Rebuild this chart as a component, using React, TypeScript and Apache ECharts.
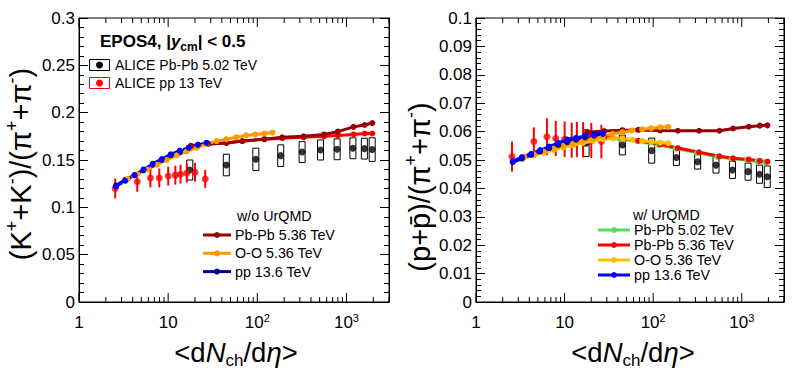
import React, { useEffect, useRef } from 'react';
import * as echarts from 'echarts';

// ---------- axes ----------
const X_MIN = 1;
const X_MAX = 3000;
const xMajorTicks = [1, 10, 100, 1000];
const xMinorTicks = [2, 3, 4, 5, 6, 7, 8, 9, 20, 30, 40, 50, 60, 70, 80, 90, 200, 300, 400, 500, 600, 700, 800, 900, 2000, 3000];
const KPI_MAX = 0.3;
const KPI_STEP = 0.05;
const PPI_MAX = 0.1;
const PPI_STEP = 0.01;

// ---------- ALICE Pb-Pb 5.02 TeV ----------
const alicePbPbX = [17.5, 44.9, 96.3, 183, 318, 512, 786, 1180, 1587, 1943];
const alicePbPbKpi = [0.1394, 0.1447, 0.1507, 0.1546, 0.1584, 0.1606, 0.1613, 0.1624, 0.162, 0.161];
const alicePbPbKpiSys = [0.0106, 0.0114, 0.0118, 0.0114, 0.011, 0.0106, 0.011, 0.011, 0.011, 0.0125];
const alicePbPbPpi = [0.0559, 0.0553, 0.0533, 0.0509, 0.0494, 0.0482, 0.0465, 0.0459, 0.045, 0.0441];
const alicePbPbPpiSys = [0.0047, 0.0035, 0.0044, 0.0028, 0.0026, 0.0028, 0.003, 0.003, 0.0032, 0.0038];

// ---------- ALICE pp 13 TeV ----------
const alicePpX = [2.55, 4.5, 6.32, 7.95, 10.02, 12.04, 13.77, 16.17, 20.02, 26.02];
const alicePpKpi = [0.12, 0.127, 0.131, 0.131, 0.133, 0.134, 0.135, 0.136, 0.137, 0.13];
const alicePpKpiErr = [0.0105, 0.0105, 0.01, 0.01, 0.01, 0.01, 0.01, 0.01, 0.01, 0.0095];
const alicePpPpi = [0.0512, 0.0565, 0.0582, 0.0576, 0.0573, 0.057, 0.0572, 0.0571, 0.0569, 0.0565];
const alicePpPpiErr = [0.0053, 0.005, 0.0065, 0.0062, 0.0063, 0.0062, 0.0062, 0.0062, 0.0062, 0.0059];

// ---------- EPOS4 ----------
const eposPbPbX = [18, 28, 45, 68, 120, 190, 330, 560, 800, 1200, 1600, 1950];
const pbpbKpiNoUrqmd = [0.165, 0.167, 0.168, 0.17, 0.172, 0.174, 0.175, 0.177, 0.18, 0.185, 0.187, 0.189];
const pbpbKpiUrqmd = [0.165, 0.167, 0.168, 0.17, 0.172, 0.173, 0.174, 0.175, 0.176, 0.177, 0.178, 0.178];
const pbpbPpiNoUrqmd = [0.0598, 0.0602, 0.0605, 0.0606, 0.0604, 0.0603, 0.0603, 0.0603, 0.0611, 0.0617, 0.0621, 0.0622];
const pbpbPpiUrqmd = [0.0585, 0.058, 0.0575, 0.0568, 0.0555, 0.0542, 0.0527, 0.0513, 0.0506, 0.0502, 0.0497, 0.0494];
const eposPbPb502X = [17, 27, 43, 66, 115, 180, 315, 530, 770, 1150, 1500, 1850];
const pbpb502PpiUrqmd = [0.0583, 0.0578, 0.0573, 0.0566, 0.0553, 0.054, 0.0525, 0.0511, 0.0504, 0.05, 0.0495, 0.0492];
const eposOOX = [3.5, 4.5, 5.8, 7.5, 9.6, 12.5, 16, 21, 27, 35, 45, 58, 75, 95, 120, 148];
const ooKpiNoUrqmd = [0.13, 0.135, 0.14, 0.145, 0.15, 0.155, 0.159, 0.163, 0.167, 0.17, 0.172, 0.174, 0.176, 0.177, 0.178, 0.179];
const ooPpiNoUrqmd = [0.0512, 0.052, 0.053, 0.054, 0.055, 0.0558, 0.0566, 0.0575, 0.0584, 0.0592, 0.0598, 0.0604, 0.0608, 0.0612, 0.0615, 0.0617];
const ooPpiUrqmd = [0.0508, 0.0516, 0.0525, 0.0535, 0.0544, 0.0552, 0.056, 0.0567, 0.0573, 0.0576, 0.0575, 0.0572, 0.0568, 0.0564, 0.0561, 0.0559];
const eposPpX = [2.6, 3.3, 4.2, 5.3, 6.7, 8.5, 10.7, 13.5, 17, 21.5, 27];
const ppKpiNoUrqmd = [0.123, 0.129, 0.134, 0.139, 0.145, 0.15, 0.155, 0.158, 0.163, 0.166, 0.168];
const ppKpiUrqmd = [0.122, 0.128, 0.134, 0.14, 0.146, 0.151, 0.156, 0.16, 0.163, 0.166, 0.168];
const ppPpiNoUrqmd = [0.0492, 0.0505, 0.0518, 0.053, 0.0542, 0.0553, 0.0563, 0.0572, 0.058, 0.0586, 0.0592];
const ppPpiUrqmd = [0.0496, 0.051, 0.0522, 0.0535, 0.0547, 0.056, 0.0572, 0.0578, 0.0585, 0.059, 0.0595];

// ---------- legends ----------
const leftLegendNames = ['Pb-Pb 5.36 TeV', 'O-O 5.36 TeV', 'pp 13.6 TeV'];
const rightLegendNames = ['Pb-Pb 5.02 TeV', 'Pb-Pb 5.36 TeV', 'O-O 5.36 TeV', 'pp 13.6 TeV'];

const FONT = '"Liberation Sans", Arial, Helvetica, sans-serif';
const DARKRED = '#990000';
const ORANGE = '#ff9900';
const NAVY = '#000099';
const GREEN = '#55dd55';
const RED = '#ff0000';
const YELLOW = '#ffbf00';
const BLUE = '#0000ff';

const leftLegendColors = [DARKRED, ORANGE, NAVY];
const rightLegendColors = [GREEN, RED, YELLOW, BLUE];

const pairs = (xs: number[], ys: number[]) => xs.map((x, i) => [x, ys[i]]);

const lineSeries = (xs: number[], ys: number[], color: string, xi: number, yi: number, dashed = false) => ({
  type: 'line',
  xAxisIndex: xi,
  yAxisIndex: yi,
  data: pairs(xs, ys),
  symbol: 'circle',
  symbolSize: 6,
  showSymbol: true,
  silent: true,
  itemStyle: { color },
  lineStyle: { color, width: 3, type: dashed ? [7, 4] : 'solid' },
  z: 3,
});

const boxSeries = (xs: number[], ys: number[], errs: number[], xi: number, yi: number) => ({
  type: 'custom',
  xAxisIndex: xi,
  yAxisIndex: yi,
  silent: true,
  data: xs.map((x, i) => [x, ys[i], errs[i]]),
  encode: { x: 0, y: 1 },
  z: 2,
  renderItem: (params: any, api: any) => {
    const x = api.value(0);
    const y = api.value(1);
    const e = api.value(2);
    const hi = api.coord([x, y + e]);
    const lo = api.coord([x, y - e]);
    const hw = 3;
    return {
      type: 'rect',
      shape: { x: hi[0] - hw, y: hi[1], width: 2 * hw, height: lo[1] - hi[1] },
      style: { fill: 'none', stroke: '#000', lineWidth: 1 },
    };
  },
});

const barSeries = (xs: number[], ys: number[], errs: number[], color: string, xi: number, yi: number) => ({
  type: 'custom',
  xAxisIndex: xi,
  yAxisIndex: yi,
  silent: true,
  data: xs.map((x, i) => [x, ys[i], errs[i]]),
  encode: { x: 0, y: 1 },
  z: 2,
  renderItem: (params: any, api: any) => {
    const x = api.value(0);
    const y = api.value(1);
    const e = api.value(2);
    const hi = api.coord([x, y + e]);
    const lo = api.coord([x, y - e]);
    return {
      type: 'line',
      shape: { x1: hi[0], y1: hi[1], x2: lo[0], y2: lo[1] },
      style: { stroke: color, lineWidth: 2 },
    };
  },
});

const pointSeries = (xs: number[], ys: number[], color: string, xi: number, yi: number) => ({
  type: 'scatter',
  xAxisIndex: xi,
  yAxisIndex: yi,
  silent: true,
  data: pairs(xs, ys),
  symbol: 'circle',
  symbolSize: 7,
  itemStyle: { color },
  z: 2,
});

const tickSeries = (xi: number, yi: number) => ({
  type: 'custom',
  xAxisIndex: xi,
  yAxisIndex: yi,
  silent: true,
  data: xMajorTicks.map((v) => [v, 0, 1]).concat(xMinorTicks.map((v) => [v, 0, 0])),
  encode: { x: 0, y: 1 },
  z: 10,
  renderItem: (params: any, api: any) => {
    const v = api.value(0);
    const len = api.value(2) === 1 ? 9 : 5;
    const cs = params.coordSys;
    const x = api.coord([v, 0])[0];
    const top = cs.y;
    const bot = cs.y + cs.height;
    return {
      type: 'group',
      children: [
        { type: 'line', shape: { x1: x, y1: bot, x2: x, y2: bot - len }, style: { stroke: '#000', lineWidth: 1 } },
        { type: 'line', shape: { x1: x, y1: top, x2: x, y2: top + len }, style: { stroke: '#000', lineWidth: 1 } },
      ],
    };
  },
});

const xLabelFormatter = (v: number) => {
  const e = Math.round(Math.log10(v));
  if (Math.abs(v - Math.pow(10, e)) / v > 1e-6) return '';
  if (e === 0) return '{b|1}';
  if (e === 1) return '{b|10}';
  return '{b|10}{s|' + e + '}';
};

const makeXAxis = (gridIndex: number) => ({
  type: 'log',
  logBase: 10,
  gridIndex,
  min: X_MIN,
  max: X_MAX,
  axisLine: { show: true, lineStyle: { color: '#000', width: 1 } },
  axisTick: { show: false },
  splitLine: { show: false },
  axisLabel: {
    margin: 10,
    formatter: xLabelFormatter,
    rich: {
      b: { fontSize: 17, fontFamily: FONT, color: '#000', lineHeight: 20 },
      s: { fontSize: 11, fontFamily: FONT, color: '#000', verticalAlign: 'top', lineHeight: 9 },
    },
  },
});

const makeYAxis = (gridIndex: number, max: number, step: number, position: string, labels: boolean) => ({
  type: 'value',
  gridIndex,
  position,
  min: 0,
  max,
  interval: step,
  axisLine: { show: true, onZero: false, lineStyle: { color: '#000', width: 1 } },
  axisTick: { show: true, inside: true, length: 9, lineStyle: { color: '#000' } },
  minorTick: { show: true, splitNumber: 5, length: 5, lineStyle: { color: '#000' } },
  splitLine: { show: false },
  axisLabel: {
    show: labels,
    margin: 4,
    fontSize: 17,
    fontFamily: FONT,
    color: '#000',
    formatter: (v: number) => String(+v.toFixed(4)),
  },
});

const txt = (x: number, y: number, text: string, extra: any = {}) => ({
  type: 'text',
  x,
  y,
  silent: true,
  style: { text, fontSize: 14.3, fontFamily: FONT, fill: '#000', verticalAlign: 'middle', align: 'left', ...extra },
});

const legendLine = (x1: number, x2: number, y: number, color: string) => [
  { type: 'line', silent: true, shape: { x1, y1: y, x2, y2: y }, style: { stroke: color, lineWidth: 3 } },
  { type: 'circle', silent: true, shape: { cx: (x1 + x2) / 2, cy: y, r: 3 }, style: { fill: color } },
];

const xTitleRich = {
  a: { fontSize: 27.5, fontFamily: FONT, color: '#000', lineHeight: 34 },
  i: { fontSize: 27.5, fontFamily: FONT, fontStyle: 'italic', color: '#000', lineHeight: 34 },
  d: { fontSize: 17, fontFamily: FONT, color: '#000', verticalAlign: 'bottom', lineHeight: 17 },
};
const yTitleRich = {
  a: { fontSize: 29, fontFamily: FONT, color: '#000', lineHeight: 36 },
  u: { fontSize: 18, fontFamily: FONT, color: '#000', verticalAlign: 'top', lineHeight: 15 },
};

const xTitle = '{a|<d}{i|N}{d|ch}{a|/d}{i|η}{a|>}';

export default function App() {
  const ref = useRef<HTMLDivElement>(null);
  useEffect(() => {
    if (!ref.current) return;
    const chart = echarts.init(ref.current, null, { renderer: 'svg' });

    const graphic: any[] = [];
    // top-left header and ALICE legend
    graphic.push({
      type: 'text',
      x: 100,
      y: 41,
      silent: true,
      style: {
        text: '{b|EPOS4, |}{bi|y}{bs|cm}{b|| < 0.5}',
        verticalAlign: 'middle',
        rich: {
          b: { fontSize: 17, fontWeight: 'bold', fontFamily: FONT, color: '#000', lineHeight: 24 },
          bi: { fontSize: 17, fontWeight: 'bold', fontStyle: 'italic', fontFamily: FONT, color: '#000', lineHeight: 24 },
          bs: { fontSize: 12, fontWeight: 'bold', fontFamily: FONT, color: '#000', verticalAlign: 'bottom', lineHeight: 14 },
        },
      },
    });
    graphic.push({ type: 'rect', silent: true, shape: { x: 89.5, y: 59.5, width: 20, height: 11 }, style: { fill: 'none', stroke: '#000', lineWidth: 1 } });
    graphic.push({ type: 'circle', silent: true, shape: { cx: 99.5, cy: 65, r: 3.5 }, style: { fill: '#000' } });
    graphic.push(txt(115, 65, 'ALICE Pb-Pb 5.02 TeV', { fontSize: 14 }));
    graphic.push({ type: 'rect', silent: true, shape: { x: 89.5, y: 77.5, width: 20, height: 11 }, style: { fill: 'none', stroke: RED, lineWidth: 1 } });
    graphic.push({ type: 'circle', silent: true, shape: { cx: 99.5, cy: 83, r: 3.5 }, style: { fill: RED } });
    graphic.push(txt(115, 83, 'ALICE pp 13 TeV', { fontSize: 14 }));

    // left bottom legend
    graphic.push(txt(237, 216, 'w/o UrQMD'));
    leftLegendNames.forEach((n, i) => {
      const y = 235 + i * 18.3;
      graphic.push(...legendLine(203, 231, y, leftLegendColors[i]));
      graphic.push(txt(235, y, n));
    });
    // right legend
    graphic.push(txt(633, 215, 'w/ UrQMD'));
    rightLegendNames.forEach((n, i) => {
      const y = 230 + i * 15;
      graphic.push(...legendLine(598, 630, y, rightLegendColors[i]));
      graphic.push(txt(634, y, n));
    });

    // axis titles
    graphic.push({ type: 'text', x: 236, y: 352, silent: true, style: { text: xTitle, align: 'center', verticalAlign: 'middle', rich: xTitleRich } });
    graphic.push({ type: 'text', x: 633, y: 352, silent: true, style: { text: xTitle, align: 'center', verticalAlign: 'middle', rich: xTitleRich } });
    graphic.push({
      type: 'text', x: 21, y: 164, rotation: Math.PI / 2, silent: true,
      style: { text: '{a|(K}{u|+}{a|+K}{u|-}{a|)/(π}{u|+}{a|+π}{u|-}{a|)}', align: 'center', verticalAlign: 'middle', rich: yTitleRich },
    });
    graphic.push({
      type: 'text', x: 420, y: 187, rotation: Math.PI / 2, silent: true,
      style: { text: '{a|(p+p\u0304)/(π}{u|+}{a|+π}{u|-}{a|)}', align: 'center', verticalAlign: 'middle', rich: yTitleRich },
    });

    const series: any[] = [
      // left panel (xAxis 0, yAxis 0)
      boxSeries(alicePbPbX, alicePbPbKpi, alicePbPbKpiSys, 0, 0),
      pointSeries(alicePbPbX, alicePbPbKpi, '#000', 0, 0),
      barSeries(alicePpX, alicePpKpi, alicePpKpiErr, RED, 0, 0),
      pointSeries(alicePpX, alicePpKpi, RED, 0, 0),
      lineSeries(eposPbPbX, pbpbKpiUrqmd, RED, 0, 0),
      lineSeries(eposPbPbX, pbpbKpiNoUrqmd, DARKRED, 0, 0),
      lineSeries(eposPpX, ppKpiNoUrqmd, NAVY, 0, 0),
      lineSeries(eposOOX, ooKpiNoUrqmd, ORANGE, 0, 0),
      lineSeries(eposPpX, ppKpiUrqmd, BLUE, 0, 0, true),
      tickSeries(0, 0),
      // right panel (xAxis 1, yAxis 2)
      boxSeries(alicePbPbX, alicePbPbPpi, alicePbPbPpiSys, 1, 2),
      pointSeries(alicePbPbX, alicePbPbPpi, '#000', 1, 2),
      barSeries(alicePpX, alicePpPpi, alicePpPpiErr, RED, 1, 2),
      pointSeries(alicePpX, alicePpPpi, RED, 1, 2),
      lineSeries(eposPbPb502X, pbpb502PpiUrqmd, GREEN, 1, 2),
      lineSeries(eposPbPbX, pbpbPpiUrqmd, RED, 1, 2),
      lineSeries(eposPbPbX, pbpbPpiNoUrqmd, DARKRED, 1, 2),
      lineSeries(eposOOX, ooPpiUrqmd, YELLOW, 1, 2),
      lineSeries(eposOOX, ooPpiNoUrqmd, ORANGE, 1, 2),
      lineSeries(eposPpX, ppPpiNoUrqmd, NAVY, 1, 2),
      lineSeries(eposPpX, ppPpiUrqmd, BLUE, 1, 2),
      tickSeries(1, 2),
    ];

    chart.setOption({
      animation: false,
      backgroundColor: '#fff',
      grid: [
        { left: 79, top: 18, width: 310, height: 284, show: true, borderColor: '#000', borderWidth: 1, containLabel: false },
        { left: 476, top: 18, width: 308, height: 284, show: true, borderColor: '#000', borderWidth: 1, containLabel: false },
      ],
      xAxis: [makeXAxis(0), makeXAxis(1)],
      yAxis: [
        makeYAxis(0, KPI_MAX, KPI_STEP, 'left', true),
        makeYAxis(0, KPI_MAX, KPI_STEP, 'right', false),
        makeYAxis(1, PPI_MAX, PPI_STEP, 'left', true),
        makeYAxis(1, PPI_MAX, PPI_STEP, 'right', false),
      ],
      series,
      graphic,
    });
    return () => chart.dispose();
  }, []);
  return <div ref={ref} style={{ position: 'fixed', left: 0, top: 0, width: 793, height: 378, background: '#fff' }} />;
}
